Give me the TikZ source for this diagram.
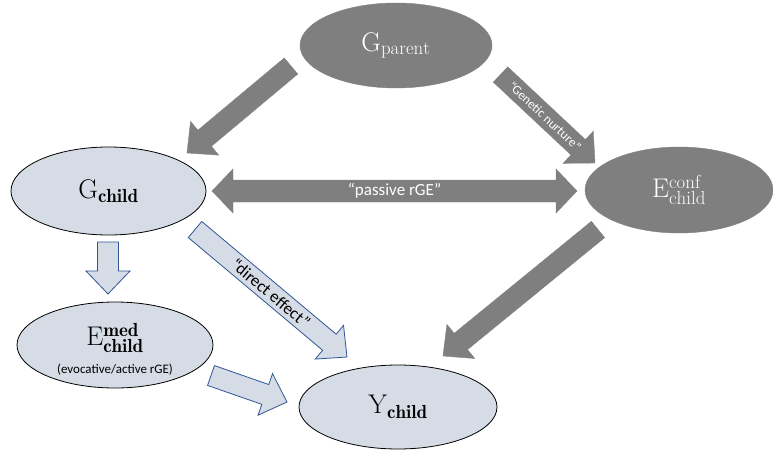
\documentclass[tikz,border=0pt]{standalone}
\usepackage{fontspec}
\usepackage{tikz}
\usetikzlibrary{calc,shapes,positioning}
\newfontfamily\calibri{Carlito}
\definecolor{shgray}{HTML}{7F7F7F}
\definecolor{shblue}{HTML}{D6DCE5}
\definecolor{lnblue}{HTML}{2F5597}

\newcommand{\blockarrow}[3]{%
  \coordinate (hb) at ($(#3)!23pt!(#2)$);
  \filldraw[#1] ($(#2)!10.5pt!90:(#3)$) -- ($(hb)!10.5pt!90:(#3)$) -- ($(hb)!22pt!90:(#3)$) -- (#3)
     -- ($(hb)!22pt!-90:(#3)$) -- ($(hb)!10.5pt!-90:(#3)$) -- ($(#2)!10.5pt!-90:(#3)$) -- cycle;
}
\newcommand{\dblarrow}[3]{%
  \coordinate (ha) at ($(#2)!21pt!(#3)$);
  \coordinate (hb) at ($(#3)!21pt!(#2)$);
  \filldraw[#1] (#2) -- ($(ha)!22pt!90:(#3)$) -- ($(ha)!11pt!90:(#3)$) -- ($(hb)!11pt!90:(#3)$)
     -- ($(hb)!22pt!90:(#3)$) -- (#3) -- ($(hb)!22pt!-90:(#3)$) -- ($(hb)!11pt!-90:(#3)$)
     -- ($(ha)!11pt!-90:(#3)$) -- ($(ha)!22pt!-90:(#3)$) -- cycle;
}

\begin{document}
\begin{tikzpicture}[x=1pt,y=-1pt,
    grayell/.style={ellipse,fill=shgray,draw=shgray,text=white,font=\fontsize{27}{30}\selectfont},
    blueell/.style={ellipse,fill=shblue,draw=black,line width=0.8pt,font=\fontsize{27}{30}\selectfont},
    grayarr/.style={fill=shgray,draw=shgray,line width=0.4pt},
    bluearr/.style={fill=shblue,draw=lnblue,line width=0.8pt},
    arrtext/.style={font=\calibri\fontsize{#1}{#1}\selectfont,inner sep=0pt}]
  \useasboundingbox (0,0) rectangle (773,452);

  \node[grayell,minimum width=192pt,minimum height=85pt] (gp) at (396,45.5) {$\mathrm{G}_{\mathrm{parent}}$};
  \node[blueell,minimum width=195pt,minimum height=88pt] (gc) at (108.5,191) {$\mathrm{G}_{\mathbf{child}}$};
  \node[grayell,minimum width=188pt,minimum height=86pt] (ec) at (679,190) {$\mathrm{E}^{\mathrm{conf}}_{\mathrm{child}}$};
  \node[blueell,minimum width=196pt,minimum height=86pt] (em) at (115,345) {};
  \node at (115,338) {\fontsize{27}{30}\selectfont$\mathrm{E}^{\mathbf{med}}_{\mathbf{child}}$};
  \node[arrtext=13] (emt) at (115,369.5) {(evocative/active rGE)};
  \node[blueell,minimum width=198pt,minimum height=84pt] (yc) at (398,407) {$\mathrm{Y}_{\mathbf{child}}$};

  \coordinate (a1) at (291,66);    \coordinate (b1) at (187,153);
  \coordinate (a2) at (500.5,74.5); \coordinate (b2) at (595,163);
  \coordinate (a3) at (212,191);   \coordinate (b3) at (577,191);
  \coordinate (a4) at (598,229.5); \coordinate (b4) at (443,356);
  \coordinate (a5) at (108,242);   \coordinate (b5) at (108,294);
  \coordinate (a6) at (195,229.5); \coordinate (b6) at (347,357);
  \coordinate (a7) at (211,375.5); \coordinate (b7) at (287,402);

  \blockarrow{grayarr}{a1}{b1}
  \blockarrow{grayarr}{a2}{b2}
  \dblarrow{grayarr}{a3}{b3}
  \blockarrow{grayarr}{a4}{b4}
  \blockarrow{bluearr}{a5}{b5}
  \blockarrow{bluearr}{a6}{b6}
  \blockarrow{bluearr}{a7}{b7}

  \path (a2) -- (b2) node[pos=0.47,sloped,arrtext=13,text=white] {“Genetic nurture”};
  \path (a3) -- (b3) node[midway,arrtext=17,text=white] {“passive rGE”};
  \path (a6) -- (b6) node[midway,sloped,arrtext=17] {“direct effect”};
\end{tikzpicture}
\end{document}
